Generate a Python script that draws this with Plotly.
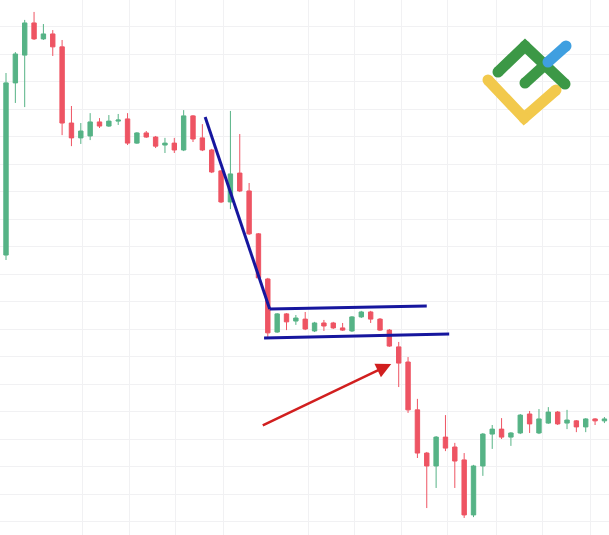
import plotly.graph_objects as go

# ---- candle data (index, open, high, low, close) ----
idx = list(range(65))
opens = [116.9, 179.5, 189.6, 201.3, 195.5, 197.3, 192.6, 164.9, 159.5, 160.2,
         165.3, 163.8, 165.6, 166.4, 157.6, 161.3, 159.8, 156.9, 157.6, 155.1,
         167.5, 159.5, 155.1, 147.5, 136.2, 146.7, 140.2, 124.6, 108.2, 88.9,
         95.5, 92.9, 93.6, 89.3, 92.2, 92.2, 90.4, 89.3, 94.4, 96.2,
         93.6, 89.6, 83.5, 78.0, 60.6, 44.9, 40.2, 50.7, 47.1, 42.4,
         22.4, 40.2, 51.8, 53.6, 50.7, 52.2, 59.1, 52.2, 55.8, 59.8,
         55.8, 56.6, 54.4, 57.3, 56.6]
highs = [183.1, 190.7, 202.4, 205.3, 200.9, 198.7, 195.1, 171.1, 164.9, 168.5,
         166.7, 167.8, 168.2, 168.5, 161.6, 162.0, 160.2, 159.5, 159.5, 169.6,
         167.8, 164.5, 155.5, 147.8, 169.3, 160.9, 143.1, 124.9, 108.6, 95.8,
         95.8, 95.1, 96.2, 92.6, 93.3, 92.6, 92.2, 94.7, 96.6, 96.6,
         94.0, 90.0, 85.3, 79.8, 64.6, 45.3, 51.1, 58.7, 48.6, 44.9,
         40.6, 52.2, 55.1, 57.6, 52.5, 59.1, 60.2, 60.9, 61.6, 60.2,
         60.6, 56.9, 57.6, 57.6, 58.0]
lows = [115.1, 172.2, 170.7, 195.1, 195.1, 189.3, 160.5, 156.5, 157.3, 158.7,
        163.1, 163.5, 164.2, 156.9, 157.3, 159.5, 155.8, 154.0, 154.0, 154.7,
        158.0, 154.7, 146.7, 135.8, 133.6, 139.8, 124.2, 108.2, 87.1, 88.6,
        89.6, 91.5, 89.6, 88.9, 89.3, 90.0, 89.3, 88.9, 94.0, 92.2,
        89.3, 83.5, 68.9, 59.5, 43.1, 24.9, 32.2, 45.6, 32.2, 21.3,
        21.6, 36.6, 46.4, 50.0, 47.5, 51.8, 52.2, 51.8, 55.5, 55.1,
        53.6, 52.5, 52.5, 55.1, 55.8]
closes = [179.5, 190.0, 201.3, 195.5, 197.3, 192.6, 164.9, 159.5, 162.0, 165.3,
          163.8, 165.6, 166.0, 157.6, 161.3, 159.8, 156.5, 157.6, 155.1, 167.5,
          159.1, 155.1, 147.1, 136.2, 146.4, 140.2, 124.6, 108.6, 88.6, 95.5,
          92.6, 94.0, 90.0, 92.2, 91.1, 90.4, 89.6, 94.4, 96.2, 93.6,
          89.6, 83.8, 77.6, 60.6, 44.9, 40.2, 50.7, 46.7, 42.0, 22.4,
          40.2, 51.8, 53.6, 50.7, 52.2, 58.7, 55.5, 57.3, 59.8, 55.5,
          56.9, 54.4, 57.3, 56.6, 57.3]

# ---- pattern lines drawn on the chart (index, price) ----
pole_x = [21.3, 28.2]
pole_y = [167.1, 97.3]
flag_top_x = [28.2, 45.0]
flag_top_y = [97.3, 98.4]
flag_bot_x = [27.6, 47.4]
flag_bot_y = [86.7, 88.2]
arrow_tail = (27.3, 54.7)
arrow_head = (41.2, 77.3)

# vertical grid positions (candle index) and horizontal grid prices
vgrid = [8.13, 13.16, 18.18, 23.21, 32.30, 37.22, 42.25, 47.27, 52.41, 57.43, 62.46]
hgrid = list(range(20, 210, 10))

GREEN = "#56b386"
RED = "#ee5463"
BLUE = "#16169e"

fig = go.Figure()
fig.add_trace(go.Candlestick(
    x=idx, open=opens, high=highs, low=lows, close=closes,
    increasing=dict(line=dict(color=GREEN, width=1), fillcolor=GREEN),
    decreasing=dict(line=dict(color=RED, width=1), fillcolor=RED),
    whiskerwidth=0, hoverinfo="skip", showlegend=False,
))
for xs, ys in [(pole_x, pole_y), (flag_top_x, flag_top_y), (flag_bot_x, flag_bot_y)]:
    fig.add_trace(go.Scatter(x=xs, y=ys, mode="lines",
                             line=dict(color=BLUE, width=3),
                             hoverinfo="skip", showlegend=False))

fig.add_annotation(x=arrow_head[0], y=arrow_head[1], ax=arrow_tail[0], ay=arrow_tail[1],
                   xref="x", yref="y", axref="x", ayref="y", text="",
                   showarrow=True, arrowhead=2, arrowsize=1.2, arrowwidth=2.5,
                   arrowcolor="#d11f1f")

# ---- logo (decorative, paper coordinates) ----
W, H = 609, 535
def P(px, py):
    return px / W, 1 - py / H

logo_strokes = [
    ([(488, 80), (524, 118), (556, 90)], "#f2c94c"),
    ([(498, 72), (525, 46), (565, 84)], "#3c9846"),
    ([(525, 83), (547, 63)], "#3c9846"),
    ([(548, 62), (566, 46)], "#3f9fe0"),
]
lw = 11
for pts, col in logo_strokes:
    path = ""
    for k, (px, py) in enumerate(pts):
        x, y = P(px, py)
        path += ("M" if k == 0 else " L") + f"{x},{y}"
    fig.add_shape(type="path", path=path, xref="paper", yref="paper",
                  line=dict(color=col, width=lw))
    for (px, py) in pts:
        x, y = P(px, py)
        fig.add_shape(type="circle", xref="paper", yref="paper",
                      xsizemode="pixel", ysizemode="pixel",
                      xanchor=x, yanchor=y, x0=-lw / 2, x1=lw / 2, y0=-lw / 2, y1=lw / 2,
                      fillcolor=col, line=dict(width=0))

fig.update_layout(
    width=W, height=H,
    margin=dict(l=0, r=0, t=0, b=0),
    paper_bgcolor="white", plot_bgcolor="white",
    boxgap=0.33,
    xaxis=dict(range=[-0.642, 64.49], rangeslider=dict(visible=False),
               tickvals=vgrid, showticklabels=False, showgrid=True,
               gridcolor="#f1f1f3", gridwidth=1, zeroline=False, showline=False,
               ticks=""),
    yaxis=dict(range=[15.1, 209.64], tickvals=hgrid, showticklabels=False,
               showgrid=True, gridcolor="#f1f1f3", gridwidth=1, zeroline=False,
               showline=False, ticks=""),
)

fig.write_html("out.html", config={"displayModeBar": False})

# remove the browser's default page margin so the figure fills the window
with open("out.html", "r", encoding="utf-8") as f:
    html = f.read()
html = html.replace("<head>", "<head><style>html,body{margin:0;padding:0;overflow:hidden;}</style>", 1)
with open("out.html", "w", encoding="utf-8") as f:
    f.write(html)
